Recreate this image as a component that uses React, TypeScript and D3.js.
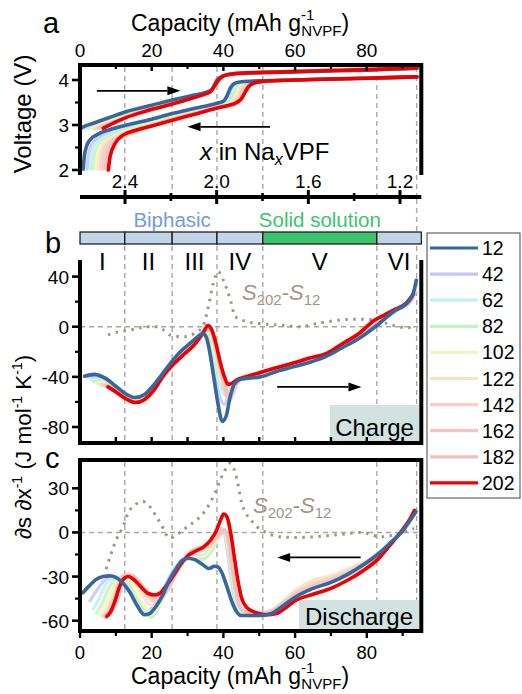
import * as d3 from "d3"
import { useEffect } from "react"

// cycle temperatures / legend
const temps = [12, 42, 62, 82, 102, 122, 142, 162, 182, 202]
const tempColors = ["#36689d", "#c3c6fb", "#c2eff7", "#c4f2c2", "#eef7c4", "#fbe2bf", "#f9ccc6", "#f5c5c5", "#f1c0c0", "#ee0000"]

// ticks
const capMajor = [0, 20, 40, 60, 80]
const capMinor = [10, 30, 50, 70, 90]
const naMajor = [2.4, 2.0, 1.6, 1.2]
const naMinor = [2.2, 1.8, 1.4]
const voltMajor = [2, 3, 4]
const voltMinor = [2.5, 3.5]
const chgMajor = [-80, -40, 0, 40]
const chgMinor = [-60, -20, 20]
const disMajor = [-60, -30, 0, 30]
const disMinor = [-45, -15, 15]

// regions
const regionEdges = [0, 12.5, 25.7, 38.2, 51, 82.8, 95.2]
const regionNames = ["I", "II", "III", "IV", "V", "VI"]
const dashedCaps = [12.5, 25.7, 38.2, 51, 82.8, 93.9]

// panel a: voltage vs capacity, charge
const voltCharge = [
  [[0, 2.93], [1.5, 2.98], [3.7, 3.04], [8, 3.16], [13, 3.3], [20, 3.44], [26, 3.56], [31, 3.65], [35.3, 3.73], [36.7, 3.78], [37.5, 3.89], [38.2, 4.0], [40, 4.09], [42.8, 4.14], [50, 4.16], [60, 4.18], [70, 4.2], [80, 4.22], [94, 4.26]],
  [[1.0, 2.92], [2.5, 2.98], [5, 3.06], [9, 3.16], [13, 3.27], [20, 3.42], [26, 3.54], [31, 3.64], [35.3, 3.72], [36.7, 3.78], [37.6, 3.9], [38.5, 4.01], [40.5, 4.1], [50, 4.16], [94, 4.26]],
  [[1.8, 2.92], [3.3, 2.98], [6, 3.06], [9.5, 3.15], [13, 3.25], [20, 3.4], [26, 3.53], [31, 3.63], [35.3, 3.72], [36.7, 3.78], [37.6, 3.9], [38.5, 4.01], [40.5, 4.1], [50, 4.16], [94, 4.26]],
  [[2.5, 2.92], [4, 2.98], [6.5, 3.05], [10, 3.14], [13, 3.23], [20, 3.39], [26, 3.52], [31, 3.62], [35.3, 3.72], [36.7, 3.77], [37.6, 3.89], [38.5, 4.01], [40.5, 4.1], [50, 4.16], [94, 4.26]],
  [[3.2, 2.92], [4.7, 2.98], [7, 3.05], [10.5, 3.13], [13, 3.21], [20, 3.37], [26, 3.51], [31, 3.62], [35.3, 3.71], [36.7, 3.77], [37.6, 3.88], [38.5, 4.0], [40.5, 4.1], [50, 4.16], [94, 4.26]],
  [[3.9, 2.92], [5.3, 2.98], [7.5, 3.04], [11, 3.12], [13, 3.2], [20, 3.36], [26, 3.5], [31, 3.61], [35.3, 3.71], [36.7, 3.77], [37.6, 3.88], [38.5, 4.0], [40.5, 4.1], [50, 4.16], [94, 4.26]],
  [[4.6, 2.92], [6, 2.98], [8, 3.04], [11, 3.11], [13, 3.19], [20, 3.35], [26, 3.49], [31, 3.61], [35.3, 3.71], [36.7, 3.76], [37.6, 3.87], [38.5, 3.99], [40.5, 4.1], [50, 4.16], [94, 4.26]],
  [[5.2, 2.92], [6.6, 2.98], [8.5, 3.03], [11, 3.1], [13, 3.18], [20, 3.34], [26, 3.48], [31, 3.6], [35.3, 3.7], [36.7, 3.76], [37.6, 3.87], [38.5, 3.98], [40.5, 4.1], [50, 4.16], [94, 4.26]],
  [[5.9, 2.93], [7.3, 2.98], [9, 3.03], [11.5, 3.1], [13, 3.18], [20, 3.33], [26, 3.48], [31, 3.6], [35.3, 3.7], [36.7, 3.76], [37.6, 3.86], [38.5, 3.97], [40.5, 4.1], [50, 4.16], [94, 4.26]],
  [[6.5, 2.93], [8, 2.99], [10, 3.07], [13, 3.17], [18, 3.3], [26, 3.47], [31, 3.59], [35.3, 3.7], [36.5, 3.75], [37.3, 3.84], [38.3, 3.96], [40, 4.09], [42.8, 4.14], [50, 4.17], [60, 4.19], [70, 4.21], [80, 4.23], [94, 4.27]],
]

// panel a: voltage vs capacity, discharge
const voltDischarge = [
  [[0.9, 2.02], [1.2, 2.3], [1.8, 2.52], [2.8, 2.67], [4.6, 2.78], [8.4, 2.9], [13, 3.0], [20, 3.13], [26, 3.26], [32, 3.37], [38, 3.48], [40, 3.53], [41, 3.65], [42, 3.83], [43, 3.92], [45, 3.96], [50, 3.98], [60, 4.0], [70, 4.02], [80, 4.04], [94, 4.07]],
  [[2.0, 2.02], [2.3, 2.3], [2.9, 2.5], [4, 2.64], [6, 2.76], [9, 2.86], [13, 2.96], [20, 3.1], [26, 3.23], [32, 3.35], [38, 3.47], [40.5, 3.52], [41.5, 3.64], [42.5, 3.82], [43.5, 3.92], [46, 3.96], [60, 4.0], [94, 4.07]],
  [[2.9, 2.02], [3.2, 2.3], [3.9, 2.5], [5, 2.63], [7, 2.74], [10, 2.85], [13, 2.94], [20, 3.08], [26, 3.21], [32, 3.33], [38, 3.45], [41, 3.5], [42, 3.62], [43, 3.8], [44, 3.91], [46.5, 3.96], [60, 4.0], [94, 4.07]],
  [[3.7, 2.02], [4.0, 2.3], [4.8, 2.5], [6, 2.63], [8, 2.73], [11, 2.84], [14, 2.93], [20, 3.06], [26, 3.19], [32, 3.31], [38, 3.43], [41.5, 3.49], [42.5, 3.6], [43.5, 3.78], [44.5, 3.9], [47, 3.96], [60, 4.0], [94, 4.07]],
  [[4.4, 2.02], [4.7, 2.3], [5.5, 2.5], [6.8, 2.63], [9, 2.73], [12, 2.84], [15, 2.92], [20, 3.04], [26, 3.17], [32, 3.29], [38, 3.41], [42, 3.48], [43, 3.59], [44, 3.76], [45, 3.89], [47.5, 3.96], [60, 4.0], [94, 4.07]],
  [[5.1, 2.02], [5.4, 2.3], [6.2, 2.5], [7.5, 2.63], [10, 2.74], [13, 2.84], [16, 2.92], [20, 3.02], [26, 3.16], [32, 3.28], [38, 3.4], [42.5, 3.47], [43.5, 3.58], [44.5, 3.75], [45.5, 3.88], [48, 3.96], [60, 4.0], [94, 4.07]],
  [[5.8, 2.02], [6.1, 2.3], [6.9, 2.5], [8.3, 2.63], [10.5, 2.73], [13.5, 2.83], [17, 2.92], [20, 3.0], [26, 3.14], [32, 3.27], [38, 3.39], [43, 3.46], [44, 3.57], [45, 3.74], [46, 3.87], [48, 3.95], [60, 4.0], [94, 4.07]],
  [[6.5, 2.02], [6.8, 2.3], [7.6, 2.5], [9, 2.63], [11, 2.72], [14, 2.82], [17, 2.9], [20, 2.99], [26, 3.13], [32, 3.26], [38, 3.38], [43.3, 3.46], [44.5, 3.56], [45.5, 3.73], [46.5, 3.86], [48.5, 3.95], [60, 4.0], [94, 4.07]],
  [[7.1, 2.02], [7.5, 2.3], [8.4, 2.5], [9.8, 2.63], [11.5, 2.72], [14.5, 2.82], [17.5, 2.9], [20, 2.98], [26, 3.12], [32, 3.25], [38, 3.37], [43.5, 3.46], [45, 3.57], [46, 3.74], [47, 3.86], [49, 3.95], [60, 4.0], [94, 4.07]],
  [[7.9, 2.0], [8.4, 2.3], [9.8, 2.59], [12.1, 2.78], [15.8, 2.89], [20, 2.98], [26, 3.11], [32, 3.24], [38, 3.37], [41, 3.43], [43.7, 3.5], [45, 3.58], [46, 3.72], [47, 3.85], [48.5, 3.93], [51, 3.97], [60, 4.0], [70, 4.02], [80, 4.04], [94, 4.07]],
]

// panel b: entropy derivative, charge
const entropyCharge = [
  [[1.3, -39.5], [4, -38], [7, -41], [10, -47.5], [13, -54], [15.3, -56.5], [18, -54], [21, -45], [25, -30], [28, -20], [31, -12.5], [33, -7.5], [34.3, -5.5], [35.3, -9], [36.3, -22], [37.3, -40], [38.4, -60], [39.7, -75.5], [40.8, -71], [41.8, -57], [43, -46], [44.7, -42], [47, -41], [50.3, -40], [55, -35.5], [59.5, -32], [64, -28.5], [68.8, -23.5], [73, -17], [78, -9], [82.8, 1], [87.4, 12], [91.6, 20], [93, 27], [93.8, 37]],
  [[2.2, -40], [4.5, -39.5], [7.5, -42.5], [10.5, -49], [13.5, -55.5], [15.5, -57.5], [18, -55], [21, -46], [25, -31], [28, -21], [31, -13], [33.5, -6], [34.7, -4], [35.7, -10], [36.7, -25], [37.8, -42], [39, -56], [40.3, -62], [41.3, -56], [42.5, -47], [44.7, -41], [50, -38.5], [55, -34.5], [60, -31], [65, -27], [70, -21.5], [75, -13], [80, -4], [85, 7], [89, 14], [92, 21], [93.8, 34]],
  [[3, -42], [5.5, -42], [8, -45], [11, -51], [14, -56.5], [16, -58], [18.5, -55], [21.3, -46], [25, -31], [28, -21.5], [31, -13.5], [33.8, -5], [35, -3], [36, -9], [37, -22], [38.2, -38], [39.4, -50], [40.5, -55], [41.5, -51], [42.7, -45], [44.8, -41], [50, -38], [55, -34], [60, -30.5], [65, -26.5], [70, -21], [75, -13], [80, -4], [85, 7], [89, 14], [92, 21], [93.8, 33]],
  [[3.8, -44], [6, -43.5], [8.5, -46], [11.5, -52], [14.3, -57], [16.3, -58.5], [18.8, -55], [21.5, -46], [25, -31.5], [28, -22], [31, -14], [34, -5], [35.2, -2.5], [36.2, -8], [37.2, -20], [38.4, -35], [39.6, -47], [40.7, -52], [41.7, -49], [42.8, -44], [45, -40.5], [50, -38], [55, -33.5], [60, -30], [65, -26], [70, -20.5], [75, -12.5], [80, -3.5], [85, 7.5], [89, 14], [92, 20], [93.8, 31]],
  [[4.5, -45], [6.5, -44.5], [9, -47], [12, -53], [14.6, -57.5], [16.6, -58.5], [19, -55], [21.7, -45.5], [25, -32], [28, -22], [31, -14], [34.2, -4.5], [35.3, -2], [36.4, -7], [37.4, -19], [38.6, -34], [39.8, -46], [40.9, -51], [41.9, -48.5], [43, -44], [45, -40.5], [50, -37.5], [55, -33], [60, -29.5], [65, -25.5], [70, -20], [75, -12.5], [80, -3.5], [85, 7.5], [89, 14], [92, 20], [93.8, 30]],
  [[5.2, -46], [7, -45.5], [9.5, -48.5], [12.5, -54.5], [15, -58.5], [17, -59], [19.3, -55], [22, -45], [25, -32.5], [28, -22.5], [31, -14.5], [34.4, -4], [35.4, -1.5], [36.5, -6], [37.6, -18], [38.8, -34], [40.1, -47], [41.1, -53], [42.1, -50], [43.3, -45], [45.2, -40.5], [50, -37.5], [55, -33], [60, -29.5], [65, -25.5], [70, -20], [75, -12], [80, -3], [85, 8], [89, 14.5], [92, 20], [93.6, 29]],
  [[5.9, -46.5], [7.5, -46.5], [10, -50], [13, -56], [15.3, -59.5], [17.3, -59.5], [19.6, -55], [22.3, -44], [25.5, -32], [28.5, -22.5], [31.5, -14], [34.6, -3.5], [35.5, -1], [36.6, -5], [37.7, -17], [39, -34], [40.4, -50], [41.3, -58], [42.3, -54], [43.5, -46], [45.3, -40.5], [50, -37], [55, -32.5], [60, -29], [65, -25], [70, -20], [75, -12], [80, -3], [85, 8], [89, 14.5], [92, 19.5], [93.6, 28]],
  [[6.6, -47], [8, -47.5], [10.5, -51], [13.3, -57], [15.5, -60], [17.6, -59.5], [19.9, -54], [22.6, -43], [25.5, -32.5], [28.5, -23], [31.5, -14.5], [34.8, -3], [35.6, -0.5], [36.6, -4], [37.8, -16], [39.2, -34], [40.6, -52], [41.4, -60], [42.4, -56], [43.6, -47], [45.4, -40.5], [50, -37], [55, -32.5], [60, -29], [65, -25], [70, -20], [75, -12], [80, -3], [85, 8.5], [89, 15], [92, 19.5], [93.4, 27]],
  [[7.2, -47.5], [8.8, -49], [11, -52.5], [13.8, -58], [15.6, -60], [17.8, -59], [20.2, -53], [22.8, -42], [25.8, -31.5], [28.8, -23], [31.8, -14.5], [35, -3], [35.7, 0], [36.7, -3], [37.8, -14], [39.2, -30], [40.6, -47], [41.4, -55], [42.4, -52], [43.7, -45], [45.5, -40.5], [50, -37], [55, -32.5], [60, -29], [65, -25], [70, -20.5], [75, -12], [80, -3], [85, 8.5], [89, 15], [92, 19.5], [93.3, 26]],
  [[7.8, -48], [10, -52], [12.5, -57], [15.5, -60.5], [18, -58], [20.5, -51], [23, -40], [26, -30], [29, -22], [32, -14], [34.3, -5], [35.7, 1], [36.7, -2], [37.8, -12], [39, -27], [40.3, -40], [41.3, -46], [42.5, -45], [44, -42], [45.6, -40.5], [50.3, -36.5], [55, -32.5], [59.5, -29], [64, -25], [69, -21], [73.5, -13], [78, -5], [82, 5], [85, 9.5], [88, 14], [91, 19], [93, 26]],
]

// panel c: entropy derivative, discharge
const entropyDischarge = [
  [[0.8, -41], [2.5, -36.5], [4.5, -32], [6.5, -30], [8.3, -29.5], [10, -30.5], [12, -34.5], [14, -41], [16, -50], [18, -56], [19.5, -55], [21.3, -50], [23, -43], [25, -32], [27, -24], [28.5, -19], [30.2, -17.5], [32, -18.5], [34, -21.5], [36, -24.5], [37.5, -23], [38.5, -23.5], [39.5, -27], [41, -37], [42.5, -48], [44, -55], [45, -56.5], [50, -56.5], [53, -55.5], [56, -51], [60, -44], [65, -38], [70, -34], [75, -28], [79, -22], [83, -15], [87, -6], [90, 1], [92, 8], [93.7, 14]],
  [[2.8, -46.5], [4.5, -40], [6.5, -33.5], [8.8, -30.5], [11, -32], [13, -37], [15, -45], [17, -52], [18.6, -54], [20.5, -50], [22.5, -42], [25, -30], [27.5, -21], [29.5, -17], [31.5, -16], [33.5, -16], [35.5, -14], [37.3, -8], [38.5, 0], [39.4, 3], [40.3, -1], [41.2, -14], [42.2, -32], [43.3, -47], [44.5, -54], [47, -56.5], [51, -56.5], [54, -54.5], [57, -49], [60, -43.5], [65, -37], [70, -33], [75, -27], [80, -21], [84, -13.5], [87.5, -5], [90.5, 3], [93.5, 13.5]],
  [[3.7, -52], [5.3, -45], [7.3, -35], [9.7, -30], [12, -32.5], [14, -38.5], [16, -47], [18, -54], [19.3, -56], [21, -51.5], [23, -43], [25.5, -30], [28, -21], [30, -17.5], [32, -17], [34, -17], [36, -14], [37.6, -8], [38.8, -1], [39.6, 2], [40.5, -2], [41.4, -15], [42.4, -33], [43.5, -47], [44.8, -54], [47.5, -56], [51, -56], [54, -54], [57, -49], [60, -43], [65, -36.5], [70, -32.5], [75, -26.5], [80, -20.5], [84, -13], [87.5, -5], [90.5, 3], [93.5, 13.5]],
  [[4.6, -55], [6, -49], [8, -38], [10.5, -30.5], [12.5, -32], [14.5, -38], [16.5, -47], [18.5, -55], [19.8, -58], [21.5, -53], [23.5, -43], [26, -29.5], [28.5, -21], [30.5, -18], [32.5, -18.5], [34.2, -18.5], [36, -15], [37.8, -8], [39, -1], [39.8, 0.5], [40.7, -3], [41.6, -16], [42.6, -34], [43.7, -48], [45, -54], [48, -55.5], [51, -56], [54, -54], [57, -48.5], [60, -42.5], [65, -35.5], [70, -31.5], [75, -26], [80, -20], [84, -13], [87.5, -5], [90.5, 3], [93.5, 13.5]],
  [[5.4, -56], [6.7, -51], [8.7, -40], [11, -30.5], [13, -31.5], [15, -37], [17, -46], [19, -53], [20.3, -55], [22, -50], [24, -41], [26.3, -29], [28.7, -20], [30.7, -17], [32.7, -16.5], [34.4, -16], [36.3, -12], [38, -6], [39.2, -1], [40, 0], [40.9, -4], [41.8, -17], [42.8, -35], [44, -49], [45.3, -54], [48, -55], [51, -55], [54, -52.5], [57, -46.5], [60, -40], [65, -33], [70, -30], [75, -25], [80, -19.5], [84, -13], [87.5, -5], [90.5, 3], [93.5, 13.5]],
  [[6, -57], [7.3, -53], [9.3, -42], [11.7, -29.5], [13.6, -30], [15.6, -35], [17.5, -43], [19.4, -49], [20.6, -50], [22.2, -47], [24.2, -39.5], [26.5, -28], [28.8, -19], [30.8, -14.5], [32.8, -13], [34.5, -12], [36.5, -9], [38.2, -4], [39.3, -1], [40.1, 0], [41, -4], [41.9, -18], [43, -36], [44.2, -49], [45.5, -53.5], [48, -54.5], [51, -54.5], [54, -52], [57, -46], [60, -39.5], [65, -32.5], [70, -29.5], [75, -24.5], [80, -19], [84, -12.5], [87.5, -5], [90.5, 3], [93.5, 13.5]],
  [[6.6, -57], [7.8, -54], [9.8, -43], [12.2, -29], [14, -29.5], [16, -34], [18, -41.5], [19.8, -46], [21, -47], [22.6, -45], [24.6, -38], [26.8, -27], [29, -18], [31, -13], [33, -11], [34.6, -10], [36.6, -7.5], [38.3, -3], [39.4, 0], [40.2, 1], [41.1, -3], [42, -18], [43.1, -36], [44.3, -49], [45.6, -53.5], [48, -54.5], [51, -54.5], [54, -52.5], [57, -47], [60, -41], [65, -35], [70, -31], [75, -26], [80, -20], [84, -13], [87.5, -5.5], [90.5, 2.5], [93.4, 13.5]],
  [[7, -58], [8.2, -55], [10.3, -44], [12.7, -28.5], [14.4, -29], [16.4, -33.5], [18.4, -40.5], [20.1, -44.5], [21.2, -45.5], [22.8, -44], [24.8, -37.5], [27, -27], [29.2, -18], [31.2, -12.5], [33.2, -10.5], [34.7, -9.5], [36.7, -7], [38.4, -3], [39.5, -0.5], [40.3, 0], [41.2, -4], [42.1, -19], [43.2, -37], [44.4, -49.5], [45.7, -53.5], [48, -54.5], [51, -55], [54, -53], [57, -47.5], [60, -42], [65, -36.5], [70, -32.5], [75, -27.5], [80, -21], [84, -14], [87.5, -5.5], [90.5, 2.5], [93.4, 14]],
  [[7.3, -58], [8.5, -55.5], [10.7, -44], [13, -29], [14.7, -29.5], [16.7, -34], [18.7, -40], [20.4, -43.5], [21.4, -44], [23, -42.5], [25, -36.5], [27.2, -26.5], [29.4, -18], [31.4, -12.5], [33.4, -10.5], [34.8, -10], [36.8, -7], [38.5, -2], [39.6, 1.5], [40.4, 2], [41.3, -3], [42.2, -19], [43.3, -37], [44.5, -50], [45.8, -54], [48, -55], [51, -55.5], [54, -53.5], [57, -48], [60, -43], [65, -38], [70, -34], [75, -29], [80, -22], [84, -15], [87.5, -6], [90.5, 2.5], [93.4, 14]],
  [[7.5, -57], [8.5, -54], [9.7, -47], [11, -37], [12.2, -31.5], [13.4, -30], [15, -32], [17, -37], [19, -41.5], [21, -42.5], [22.5, -41], [24, -36.5], [26, -29.5], [28, -22], [30, -16], [32, -13], [34.4, -10], [36.5, -5], [38, 1], [39.3, 9], [40.1, 12.5], [41, 10.5], [42, 0], [43, -16], [44, -32], [45, -44], [46.5, -51], [48.5, -54], [52, -56], [55, -55], [57.5, -51], [60, -46.5], [65, -42], [70, -38], [75, -32], [79, -26], [83, -18.5], [87, -7], [90, 2], [92, 9], [93.3, 15]],
]

// S202 - S12 differences
const diffCharge = [[7.8, -6.5], [10, -4.5], [12, -3.5], [15, -2], [19, 0], [21.6, 0], [23, -2], [25, -6.5], [28.6, -8], [32.5, -4.5], [34.4, 1], [35.8, 16], [37.2, 35], [38.5, 44], [40, 37], [42, 21], [43.3, 8], [46.6, 4], [50, 2.5], [55, 1.5], [61.5, 0], [65, 2], [69, 4], [76.4, 6], [82, 5.5], [86.7, 1.6], [91.4, -1], [93, 1.5]]
const diffDischarge = [[7.3, -25], [10.1, -5], [12, 4], [13.4, 13], [15.5, 19], [17.6, 21], [19, 19], [20.4, 14.3], [22.5, 6], [25, -3.8], [27.9, 0], [30, 4], [32.6, 8.6], [35, 15], [37.2, 24.4], [40, 40.3], [41.9, 47], [43.8, 35.8], [45.1, 20], [48.4, 6.4], [52.2, -0.4], [55.9, -3], [61.5, -3.4], [69, -2.2], [74.1, -1], [78.3, 0], [84, -3], [88.7, -1], [93.2, 2.7]]

const FONT = "'Liberation Sans', Arial, Helvetica, sans-serif"
const L = 80
const R = 421.3
const DASH = "#a8a8a8"
const DIFF = "#a39586"
const TICK_FS = 19

const xCap = d3.scaleLinear().domain([0, 95.2]).range([L, R])
const xNa = d3.scaleLinear().domain([2.4, 1.2]).range([125, 400])
const yV = d3.scaleLinear().domain([2, 4]).range([170, 80])
const yB = d3.scaleLinear().domain([-80, 40]).range([427, 276.6])
const yC = d3.scaleLinear().domain([-60, 30]).range([620.7, 488.3])

const mkLine = (y: d3.ScaleLinear<number, number>) =>
  d3.line<number[]>().curve(d3.curveMonotoneX).x(d => xCap(d[0])).y(d => y(d[1]))

const order = (blueOnTop: boolean) => (blueOnTop ? [1, 2, 3, 4, 5, 6, 7, 8, 9, 0] : [1, 2, 3, 4, 5, 6, 7, 8, 0, 9])

function Series({ data, y, blueOnTop }: { data: number[][][]; y: d3.ScaleLinear<number, number>; blueOnTop: boolean }) {
  const line = mkLine(y)
  return (
    <g fill="none" strokeLinecap="round" strokeLinejoin="round">
      {order(blueOnTop).map(i => (
        <path key={i} d={line(data[i]) || ""} stroke={tempColors[i]} strokeWidth={i === 0 || i === 9 ? 3.6 : 3.2} opacity={i === 0 || i === 9 ? 1 : 0.85} />
      ))}
    </g>
  )
}

function Arrow({ from, to, y }: { from: number; to: number; y: number }) {
  const dir = Math.sign(to - from)
  const head = 13
  return (
    <g>
      <line x1={from} x2={to - dir * head} y1={y} y2={y} stroke="#000" strokeWidth={1.8} />
      <polygon points={`${to},${y} ${to - dir * head},${y - 4.5} ${to - dir * head},${y + 4.5}`} fill="#000" />
    </g>
  )
}

function YTicks({ scale, major, minor }: { scale: d3.ScaleLinear<number, number>; major: number[]; minor: number[] }) {
  return (
    <g>
      {major.map(t => (
        <g key={"M" + t}>
          <line x1={L - 8} x2={L} y1={scale(t)} y2={scale(t)} stroke="#000" strokeWidth={2.6} />
          <text x={L - 11} y={scale(t) + 7} textAnchor="end" fontSize={TICK_FS}>{t}</text>
        </g>
      ))}
      {minor.map(t => (
        <line key={"m" + t} x1={L - 5} x2={L} y1={scale(t)} y2={scale(t)} stroke="#000" strokeWidth={2.2} />
      ))}
    </g>
  )
}

function CapTitle({ y }: { y: number }) {
  return (
    <text x={131} y={y} fontSize={23}>
      Capacity (mAh g
      <tspan fontSize={15} dy={-11}>-1</tspan>
      <tspan fontSize={15} dx={-13} dy={16}>NVPF</tspan>
      <tspan dy={-5}>)</tspan>
    </text>
  )
}

function DiffLabel({ x, y }: { x: number; y: number }) {
  return (
    <text x={x} y={y} fill={DIFF} fontSize={22}>
      <tspan fontStyle="italic">S</tspan>
      <tspan fontSize={15} dy={5}>202</tspan>
      <tspan dy={-5}>-</tspan>
      <tspan fontStyle="italic">S</tspan>
      <tspan fontSize={15} dy={5}>12</tspan>
    </text>
  )
}

export default function App() {
  useEffect(() => {
    document.body.style.margin = "0"
  }, [])

  const diffLineB = mkLine(yB)(diffCharge) || ""
  const diffLineC = mkLine(yC)(diffDischarge) || ""
  const frame = { stroke: "#000", strokeWidth: 4, fill: "none", strokeLinecap: "square" as const }

  return (
    <svg width={522} height={694} style={{ display: "block", fontFamily: FONT, background: "#fff" }}>
      {/* ---------- panel a ---------- */}
      <text x={43} y={33} fontSize={29}>a</text>
      <CapTitle y={31} />
      {capMajor.map(t => (
        <text key={t} x={xCap(t)} y={57} fontSize={TICK_FS} textAnchor="middle">{t}</text>
      ))}
      <text transform="translate(31,114) rotate(-90)" fontSize={24} textAnchor="middle">Voltage (V)</text>

      {dashedCaps.map(c => (
        <line key={"da" + c} x1={xCap(c)} x2={xCap(c)} y1={67} y2={195} stroke={DASH} strokeWidth={1.4} strokeDasharray="5 4" />
      ))}
      <line x1={xCap(93.9)} x2={xCap(93.9)} y1={199} y2={232} stroke={DASH} strokeWidth={1.4} strokeDasharray="5 4" />

      <Series data={voltDischarge} y={yV} blueOnTop={false} />
      <Series data={voltCharge} y={yV} blueOnTop={false} />

      <Arrow from={xCap(4.7)} to={xCap(28)} y={yV(3.76)} />
      <Arrow from={xCap(53)} to={xCap(30)} y={yV(2.96)} />
      <text x={200} y={160} fontSize={24}>
        <tspan fontStyle="italic">x</tspan> in Na
        <tspan fontStyle="italic" fontSize={16} dy={5}>x</tspan>
        <tspan dy={-5}>VPF</tspan>
      </text>

      <path d={`M${L},173 V65 H${R} V173`} {...frame} />
      {capMajor.map(t => (
        <line key={"ta" + t} x1={xCap(t)} x2={xCap(t)} y1={65} y2={71} stroke="#000" strokeWidth={2.4} />
      ))}
      {capMinor.map(t => (
        <line key={"tb" + t} x1={xCap(t)} x2={xCap(t)} y1={65} y2={69} stroke="#000" strokeWidth={2.2} />
      ))}
      <YTicks scale={yV} major={voltMajor} minor={voltMinor} />

      {/* Na_x axis */}
      <line x1={L} x2={R} y1={197} y2={197} stroke="#000" strokeWidth={4} />
      {naMajor.map(t => (
        <g key={"na" + t}>
          <line x1={xNa(t)} x2={xNa(t)} y1={190} y2={204} stroke="#000" strokeWidth={3} />
          <text x={xNa(t)} y={188} fontSize={TICK_FS} textAnchor="middle">{t.toFixed(1)}</text>
        </g>
      ))}
      {naMinor.map(t => (
        <line key={"nm" + t} x1={xNa(t)} x2={xNa(t)} y1={193} y2={201} stroke="#000" strokeWidth={2.6} />
      ))}

      {/* ---------- region bar ---------- */}
      <text x={xCap(25.7)} y={227} fontSize={20.5} fill="#6f9fd5" textAnchor="middle">Biphasic</text>
      <text x={xCap(66.9)} y={227} fontSize={20.5} fill="#3ec46f" textAnchor="middle">Solid solution</text>
      {regionNames.map((n, i) => (
        <rect key={"bar" + n} x={xCap(regionEdges[i])} y={232} width={xCap(regionEdges[i + 1]) - xCap(regionEdges[i])} height={12}
          fill={n === "V" ? "#3cc36e" : "#c1d4ea"} stroke="#111" strokeWidth={1.2} />
      ))}

      {/* ---------- panel b ---------- */}
      <text x={45} y={253} fontSize={29}>b</text>
      {regionNames.map((n, i) => (
        <text key={"rn" + n} x={(xCap(regionEdges[i]) + xCap(regionEdges[i + 1])) / 2} y={270} fontSize={24} textAnchor="middle">{n}</text>
      ))}
      {dashedCaps.map(c => (
        <line key={"db" + c} x1={xCap(c)} x2={xCap(c)} y1={246} y2={441} stroke={DASH} strokeWidth={1.4} strokeDasharray="5 4" />
      ))}
      <line x1={L} x2={R} y1={yB(0)} y2={yB(0)} stroke={DASH} strokeWidth={1.4} strokeDasharray="5 4" />
      <rect x={330} y={405} width={89} height={38} fill="#d1e2e0" />
      <text x={374.5} y={436} fontSize={24} textAnchor="middle">Charge</text>
      <path d={diffLineB} fill="none" stroke={DIFF} strokeWidth={3} strokeDasharray="2.5 5.5" />
      <DiffLabel x={242} y={300} />
      <Series data={entropyCharge} y={yB} blueOnTop={true} />
      <Arrow from={xCap(55)} to={xCap(78.5)} y={yB(-48)} />
      <path d={`M${L},262 V443 H${R} V262`} {...frame} />
      {[...capMajor, ...capMinor].map(t => (
        <line key={"bb" + t} x1={xCap(t)} x2={xCap(t)} y1={443} y2={437} stroke="#000" strokeWidth={2.4} />
      ))}
      <YTicks scale={yB} major={chgMajor} minor={chgMinor} />

      {/* ---------- panel c ---------- */}
      <text x={45} y={468} fontSize={29}>c</text>
      {dashedCaps.map(c => (
        <line key={"dc" + c} x1={xCap(c)} x2={xCap(c)} y1={462} y2={629} stroke={DASH} strokeWidth={1.4} strokeDasharray="5 4" />
      ))}
      <line x1={L} x2={R} y1={yC(0)} y2={yC(0)} stroke={DASH} strokeWidth={1.4} strokeDasharray="5 4" />
      <rect x={299} y={600} width={120} height={31} fill="#d1e2e0" />
      <text x={359} y={625} fontSize={24} textAnchor="middle">Discharge</text>
      <path d={diffLineC} fill="none" stroke={DIFF} strokeWidth={3} strokeDasharray="2.5 5.5" />
      <DiffLabel x={253} y={513} />
      <Series data={entropyDischarge} y={yC} blueOnTop={true} />
      <Arrow from={xCap(78.3)} to={xCap(55)} y={yC(-17)} />
      <rect x={L} y={460} width={R - L} height={171} {...frame} />
      {capMajor.map(t => (
        <g key={"cb" + t}>
          <line x1={xCap(t)} x2={xCap(t)} y1={631} y2={638} stroke="#000" strokeWidth={2.4} />
          <text x={xCap(t)} y={659} fontSize={18.5} textAnchor="middle">{t}</text>
        </g>
      ))}
      {capMinor.map(t => (
        <line key={"cm" + t} x1={xCap(t)} x2={xCap(t)} y1={631} y2={636} stroke="#000" strokeWidth={2.2} />
      ))}
      <YTicks scale={yC} major={disMajor} minor={disMinor} />
      <CapTitle y={684} />

      {/* shared y label */}
      <text transform="translate(31,447) rotate(-90)" fontSize={22.5} textAnchor="middle">
        ∂s ∂x<tspan fontSize={14} dy={-9}>-1</tspan>
        <tspan dy={9}> (J mol</tspan>
        <tspan fontSize={14} dy={-9}>-1</tspan>
        <tspan dy={9}> K</tspan>
        <tspan fontSize={14} dy={-9}>-1</tspan>
        <tspan dy={9}>)</tspan>
      </text>

      {/* ---------- legend ---------- */}
      <rect x={427} y={233} width={93} height={265} fill="#fff" stroke="#444" strokeWidth={1} />
      {temps.map((t, i) => (
        <g key={"lg" + t}>
          <line x1={430} x2={478} y1={248 + i * 26.1} y2={248 + i * 26.1} stroke={tempColors[i]} strokeWidth={3.2} />
          <text x={482} y={248 + i * 26.1 + 7} fontSize={19.5}>{t}</text>
        </g>
      ))}
    </svg>
  )
}
